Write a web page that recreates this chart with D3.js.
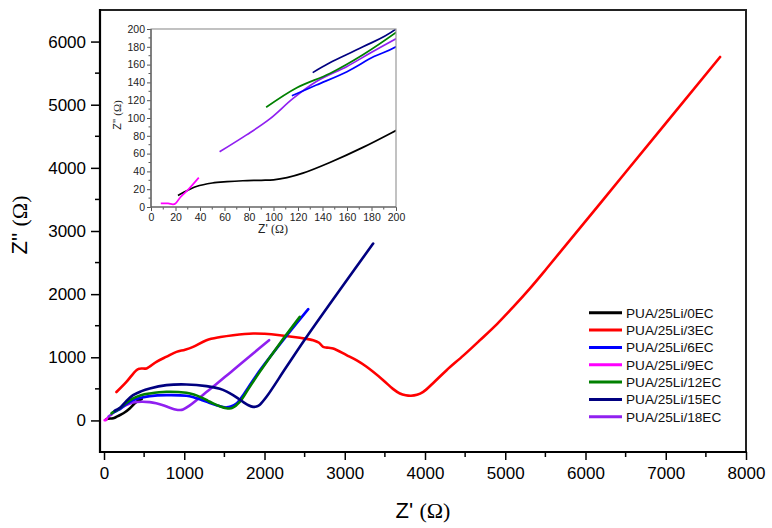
<!DOCTYPE html>
<html><head><meta charset="utf-8">
<script src="https://cdn.jsdelivr.net/npm/d3@7"></script>
<style>
body{margin:0;background:#fff;}
svg{display:block;}
text{font-family:"Liberation Sans",Arial,sans-serif;}
</style></head><body>
<svg id="c" width="772" height="528"></svg>
<script>
// ---- data (Z', Z'' in ohm) ----
const seriesNames = ["PUA/25Li/0EC","PUA/25Li/3EC","PUA/25Li/6EC","PUA/25Li/9EC","PUA/25Li/12EC","PUA/25Li/15EC","PUA/25Li/18EC"];
const seriesColors = ["#000000","#ff0000","#0000ff","#ff00ff","#008000","#000080","#9020f0"];
const s0EC = [[22,13],[26,16],[37,23],[50,27],[62,28.5],[75,29.5],[90,30],[100,30.5],[111,33],[124,38],[146,50],[173,67],[200,86],[260,130],[320,190],[404,294],[470,340]];
const s3EC = [[155,450],[279,611],[404,796],[440,818],[466,823],[529,823],[653,928],[780,1010],[903,1086],[1010,1120],[1110,1165],[1277,1271],[1450,1320],[1609,1350],[1858,1377],[2000,1372],[2191,1350],[2440,1308],[2606,1271],[2680,1230],[2731,1165],[2800,1150],[2855,1140],[3022,1034],[3150,950],[3272,849],[3479,638],[3600,500],[3687,427],[3760,398],[3825,390],[3900,405],[3978,453],[4100,590],[4269,796],[4480,1030],[4685,1271],[4900,1530],[5100,1798],[5300,2080],[5516,2406],[6500,3930],[7677,5756]];
const s6EC = [[115,125],[135,137],[160,152],[182,169],[200,180],[280,260],[362,321],[460,360],[570,385],[778,400],[1027,390],[1130,360],[1215,325],[1310,280],[1401,242],[1484,212],[1526,206],[1580,220],[1651,269],[1750,430],[1900,717],[2232,1271],[2545,1762]];
const s9EC = [[8,4],[14,4],[18,3],[20,4],[24,11],[30,19],[39,33]];
const s12EC = [[94,112],[119,134],[146,150],[173,171],[200,196],[280,280],[362,348],[460,400],[570,427],[778,453],[1027,437],[1120,410],[1210,365],[1290,315],[1359,269],[1450,220],[1526,192],[1560,188],[1600,198],[1692,294],[1800,500],[1941,769],[2191,1219],[2440,1640]];
const s15EC = [[132,151],[146,162],[173,180],[200,200],[280,310],[362,400],[460,460],[570,507],[778,559],[1027,570],[1277,543],[1443,500],[1530,455],[1608,400],[1680,340],[1733,294],[1800,240],[1858,215],[1900,220],[1942,250],[2025,374],[2274,849],[2556,1380],[3354,2802]];
const s18EC = [[56,62],[78,81],[97,99],[116,122],[135,141],[160,158],[179,173],[200,189],[270,240],[362,285],[470,296],[570,290],[650,272],[736,242],[820,200],[903,168],[950,165],[985,174],[1060,230],[1152,321],[1297,470],[1359,532],[1608,796],[1858,1060],[2057,1271]];
const allSeries = [s0EC,s3EC,s6EC,s9EC,s12EC,s15EC,s18EC];
// draw order (bottom to top)
const drawOrder = [1,0,3,6,2,4,5];

const mainXTicks = [0,1000,2000,3000,4000,5000,6000,7000,8000];
const mainYTicks = [0,1000,2000,3000,4000,5000,6000];
const insetTicks = [0,20,40,60,80,100,120,140,160,180,200];

const svg = d3.select("#c");

// ---- main plot ----
const x = d3.scaleLinear().domain([-50,8000]).range([100,746]);
const y = d3.scaleLinear().domain([-500,6500]).range([452,10]);

svg.append("clipPath").attr("id","mclip").append("rect")
  .attr("x",100).attr("y",10).attr("width",646).attr("height",442);

const line = d3.line().x(d=>x(d[0])).y(d=>y(d[1])).curve(d3.curveCatmullRom.alpha(0.5));
const gm = svg.append("g").attr("clip-path","url(#mclip)");
drawOrder.forEach(i=>{
  gm.append("path").datum(allSeries[i]).attr("d",line)
    .attr("fill","none").attr("stroke",seriesColors[i]).attr("stroke-width",2.6)
    .attr("stroke-linejoin","round").attr("stroke-linecap","round");
});

// axes
const xAxis = d3.axisBottom(x).tickValues(mainXTicks).tickSize(8).tickPadding(7).tickFormat(d3.format("d"));
const gx = svg.append("g").attr("transform","translate(0,452)").call(xAxis);
const yAxis = d3.axisLeft(y).tickValues(mainYTicks).tickSize(9).tickPadding(5).tickFormat(d3.format("d"));
const gy = svg.append("g").attr("transform","translate(100,0)").call(yAxis);
[gx,gy].forEach(g=>{
  g.select(".domain").remove();
  g.selectAll("line").attr("stroke","#000").attr("stroke-width",1.5);
  g.selectAll("text").attr("font-size",17).attr("fill","#000").attr("font-family","Liberation Sans, Arial, sans-serif");
});
// minor ticks
const xMinor = d3.range(500,8000,1000);
svg.append("g").selectAll("line").data(xMinor).join("line")
  .attr("x1",d=>x(d)).attr("x2",d=>x(d)).attr("y1",452).attr("y2",457)
  .attr("stroke","#000").attr("stroke-width",1.5);
const yMinor = d3.range(500,6500,1000);
svg.append("g").selectAll("line").data(yMinor).join("line")
  .attr("x1",95).attr("x2",100).attr("y1",d=>y(d)).attr("y2",d=>y(d))
  .attr("stroke","#000").attr("stroke-width",1.5);

// frame
svg.append("rect").attr("x",100).attr("y",10).attr("width",646).attr("height",442)
  .attr("fill","none").attr("stroke","#222").attr("stroke-width",2);
svg.append("line").attr("x1",100).attr("x2",100).attr("y1",9).attr("y2",453).attr("stroke","#000").attr("stroke-width",2.2);
svg.append("line").attr("x1",99).attr("x2",747).attr("y1",452).attr("y2",452).attr("stroke","#000").attr("stroke-width",2.2);

// axis titles
const xt = svg.append("text").attr("x",423).attr("y",518).attr("text-anchor","middle").attr("font-size",22).attr("fill","#000");
xt.append("tspan").text("Z' ");
xt.append("tspan").attr("font-family","Liberation Serif, Times New Roman, serif").text("(Ω)");
const yt = svg.append("text").attr("transform","translate(27,225) rotate(-90)").attr("text-anchor","middle").attr("font-size",22).attr("fill","#000");
yt.append("tspan").text("Z'' ");
yt.append("tspan").attr("font-family","Liberation Serif, Times New Roman, serif").text("(Ω)");

// legend
const lg = svg.append("g");
seriesNames.forEach((n,i)=>{
  const yy = 312.7 + i*17.35;
  lg.append("line").attr("x1",589).attr("x2",622).attr("y1",yy).attr("y2",yy)
    .attr("stroke",seriesColors[i]).attr("stroke-width",3);
  lg.append("text").attr("x",626).attr("y",yy+5).attr("font-size",13.6).attr("fill","#111").text(n);
});

// ---- inset ----
const xi = d3.scaleLinear().domain([0,200]).range([151,396]);
const yi = d3.scaleLinear().domain([0,200]).range([207,29]);
svg.append("rect").attr("x",151).attr("y",29).attr("width",245).attr("height",178).attr("fill","#fff");
svg.append("clipPath").attr("id","iclip").append("rect")
  .attr("x",151).attr("y",29).attr("width",245).attr("height",178);
const linei = d3.line().x(d=>xi(d[0])).y(d=>yi(d[1])).curve(d3.curveCatmullRom.alpha(0.5));
const gi = svg.append("g").attr("clip-path","url(#iclip)");
drawOrder.forEach(i=>{
  gi.append("path").datum(allSeries[i]).attr("d",linei)
    .attr("fill","none").attr("stroke",seriesColors[i]).attr("stroke-width",1.7)
    .attr("stroke-linejoin","round");
});
const xiAxis = d3.axisBottom(xi).tickValues(insetTicks).tickSize(4).tickPadding(3);
const yiAxis = d3.axisLeft(yi).tickValues(insetTicks).tickSize(4).tickPadding(2);
const gxi = svg.append("g").attr("transform","translate(0,207)").call(xiAxis);
const gyi = svg.append("g").attr("transform","translate(151,0)").call(yiAxis);
[gxi,gyi].forEach(g=>{
  g.select(".domain").remove();
  g.selectAll("line").attr("stroke","#555").attr("stroke-width",1);
  g.selectAll("text").attr("font-size",10.5).attr("fill","#222").attr("font-family","Liberation Sans, Arial, sans-serif");
});
const iMinor = d3.range(10,200,20);
svg.append("g").selectAll("line").data(iMinor).join("line")
  .attr("x1",d=>xi(d)).attr("x2",d=>xi(d)).attr("y1",207).attr("y2",209.5).attr("stroke","#555");
svg.append("g").selectAll("line").data(iMinor).join("line")
  .attr("x1",148.5).attr("x2",151).attr("y1",d=>yi(d)).attr("y2",d=>yi(d)).attr("stroke","#555");
svg.append("rect").attr("x",151).attr("y",29).attr("width",245).attr("height",178)
  .attr("fill","none").attr("stroke","#999").attr("stroke-width",1.2);
svg.append("line").attr("x1",151).attr("x2",151).attr("y1",29).attr("y2",207).attr("stroke","#555").attr("stroke-width",1.2);
svg.append("line").attr("x1",151).attr("x2",396).attr("y1",207).attr("y2",207).attr("stroke","#555").attr("stroke-width",1.2);
const xti = svg.append("text").attr("x",273).attr("y",233).attr("text-anchor","middle").attr("font-size",12).attr("fill","#222");
xti.append("tspan").text("Z' ");
xti.append("tspan").attr("font-family","Liberation Serif, Times New Roman, serif").text("(Ω)");
const yti = svg.append("text").attr("transform","translate(121,115) rotate(-90)").attr("text-anchor","middle").attr("font-size",11).attr("fill","#222");
yti.append("tspan").text("Z'' ");
yti.append("tspan").attr("font-family","Liberation Serif, Times New Roman, serif").text("(Ω)");
</script>
</body></html>
